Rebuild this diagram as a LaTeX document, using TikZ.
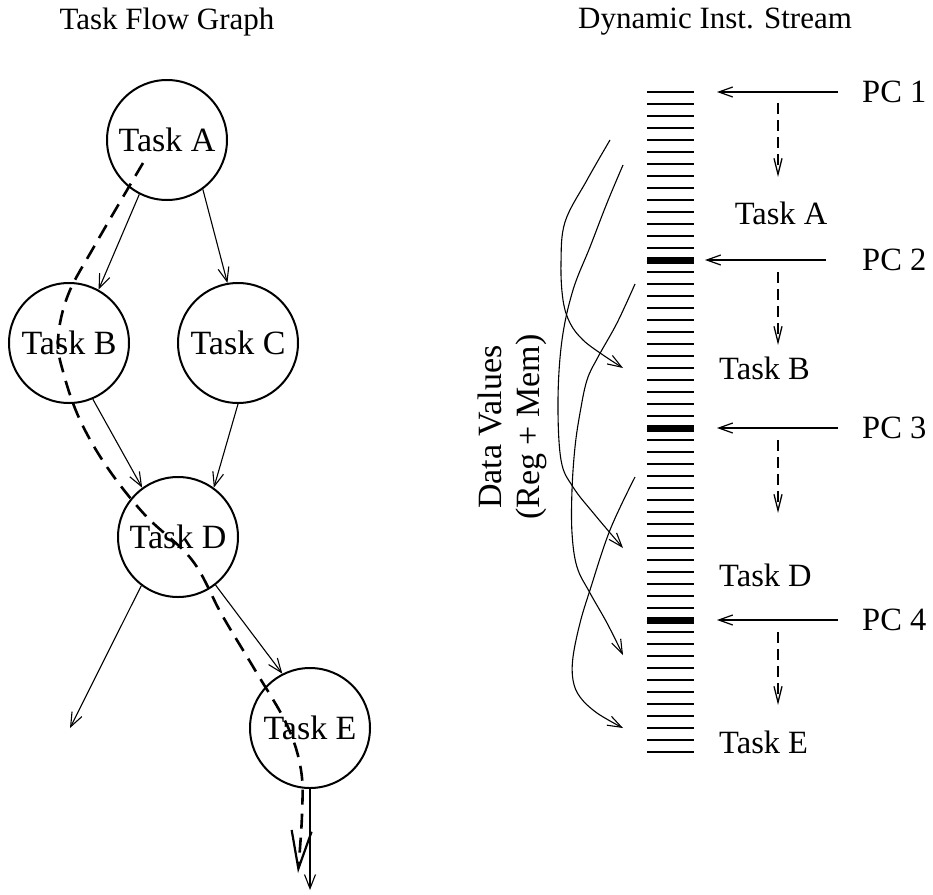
\documentclass[tikz,border=0pt]{standalone}
\usepackage{fontspec}
\setmainfont{Liberation Serif}
\usetikzlibrary{arrows.meta}
\begin{document}
\begin{tikzpicture}[x=1pt,y=-1pt,
  every node/.style={font=\fontsize{32.5}{36}\selectfont,inner sep=0pt},
  title/.style={font=\fontsize{31}{36}\selectfont},
  task/.style={circle,draw,line width=2pt,minimum size=120pt,inner sep=0pt,font=\fontsize{34}{38}\selectfont},
  link/.style={line width=1.1pt,-{Straight Barb[length=14pt,width=11pt]}},
  flow/.style={line width=2.6pt,dash pattern=on 15pt off 9pt,-{Straight Barb[length=38pt,width=20pt,line width=2.2pt]}},
  pcarrow/.style={line width=1.2pt,-{Straight Barb[length=14pt,width=10pt]}},
  nextarrow/.style={line width=1.6pt,dash pattern=on 11pt off 6pt,-{Straight Barb[length=16pt,width=8pt,line width=1.3pt]}},
  dep/.style={line width=1.1pt,-{Straight Barb[length=14pt,width=10pt]}},
  slot/.style={line width=1.3pt},
  bigslot/.style={line width=7pt}
]
\useasboundingbox (0,0) rectangle (933,894);

% titles
\node[title] (t1) at (167,22) {Task Flow Graph};
\node[title] (t2) at (715,22) {Dynamic Inst. Stream};

% task flow graph
\node[task] (A) at (167,140) {Task A};
\node[task] (B) at (69,343) {Task B};
\node[task] (C) at (238,343) {Task C};
\node[task] (D) at (178,537) {Task D};
\node[task] (E) at (310,728) {Task E};
\coordinate (Dout) at (70,728);
\coordinate (Eout) at (310,890);

\draw[link] (A.-117) -- (B.61);
\draw[link] (A.-54) -- (C.100);
\draw[link] (B.-67) -- (D.126);
\draw[link] (C.-90) -- (D.54);
\draw[link] (D.-127) -- (Dout);
\draw[link] (D.-52) -- (E.117);
\draw[link] (E.south) -- (Eout);

% dashed control flow path
\draw[flow] plot[smooth,tension=0.6] coordinates {(143,163) (95,245) (68,295) (58,340) (64,375) (80,420) (107,467) (145,515) (192,560) (222,615) (255,670) (287,725) (301,770) (302,815) (298,873)};

% instruction stream
\foreach \i in {0,...,55} { \draw[slot] (647,{92+12*\i}) -- (694,{92+12*\i}); }
\foreach \i in {14,28,44} { \draw[bigslot] (647,{92+12*\i}) -- (694,{92+12*\i}); }

% PC labels and arrows
\node[anchor=west] (pc1) at (862,92) {PC 1};
\node[anchor=west] (pc2) at (862,260) {PC 2};
\node[anchor=west] (pc3) at (862,428) {PC 3};
\node[anchor=west] (pc4) at (862,620) {PC 4};
\coordinate (p1s) at (838,92);  \coordinate (p1e) at (717,92);
\coordinate (p2s) at (826,260); \coordinate (p2e) at (705,260);
\coordinate (p3s) at (838,428); \coordinate (p3e) at (717,428);
\coordinate (p4s) at (838,620); \coordinate (p4e) at (717,620);
\draw[pcarrow] (p1s) -- (p1e);
\draw[pcarrow] (p2s) -- (p2e);
\draw[pcarrow] (p3s) -- (p3e);
\draw[pcarrow] (p4s) -- (p4e);

% task labels on stream
\node (sa) at (781,213) {Task A};
\node[anchor=west] (sb) at (719,368) {Task B};
\node[anchor=west] (sd) at (719,575) {Task D};
\node[anchor=west] (se) at (719,742) {Task E};

\coordinate (n1s) at (778,103); \coordinate (n1e) at (778,177);
\coordinate (n2s) at (778,272); \coordinate (n2e) at (778,345);
\coordinate (n3s) at (778,440); \coordinate (n3e) at (778,513);
\coordinate (n4s) at (778,632); \coordinate (n4e) at (778,705);
\draw[nextarrow] (n1s) -- (n1e);
\draw[nextarrow] (n2s) -- (n2e);
\draw[nextarrow] (n3s) -- (n3e);
\draw[nextarrow] (n4s) -- (n4e);

% data values label
\node[rotate=90,align=center,font=\fontsize{34}{38}\selectfont] (dv) at (512,427) {Data Values\\(Reg + Mem)};

% data dependence curves
\draw[dep] plot[smooth,tension=0.6] coordinates {(610,140) (587,180) (565,222) (561,263) (563,300) (570,323) (583,340) (603,355) (623,368)};
\draw[dep] plot[smooth,tension=0.6] coordinates {(623,165) (607,203) (590,247) (573,290) (562,340) (558,400) (561,460) (573,487) (595,515) (623,548)};
\draw[dep] plot[smooth,tension=0.6] coordinates {(635,284) (617,323) (598,357) (587,380) (580,413) (575,447) (572,490) (572,533) (577,567) (590,593) (607,623) (623,655)};
\draw[dep] plot[smooth,tension=0.6] coordinates {(635,477) (610,530) (590,590) (580,623) (573,657) (573,680) (580,697) (597,713) (623,728)};
\end{tikzpicture}
\end{document}
